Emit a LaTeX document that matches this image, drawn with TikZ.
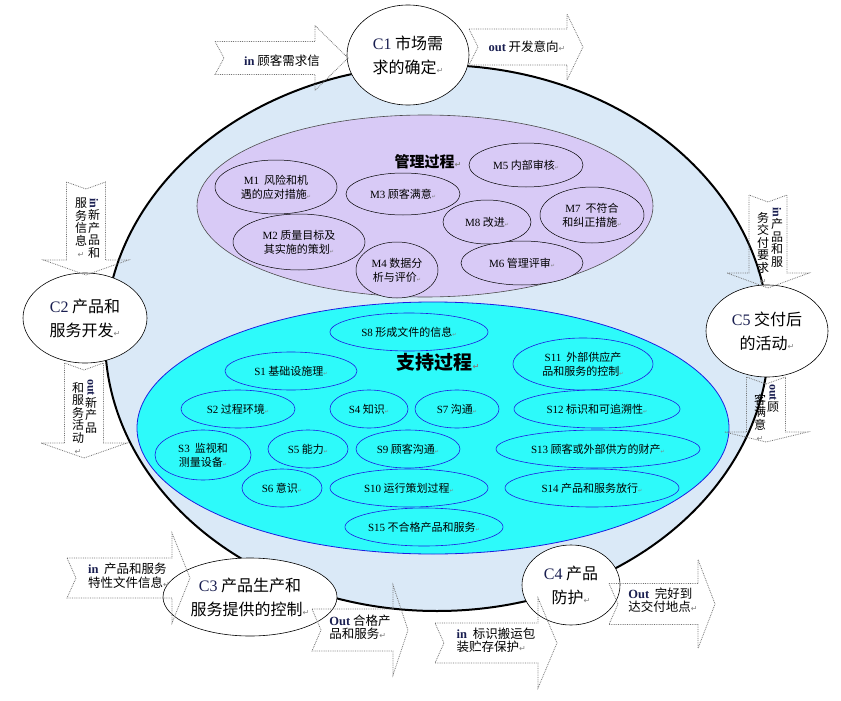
\documentclass[tikz,border=0pt]{standalone}
\usepackage{fontspec}
\setmainfont{Noto Sans CJK SC}
\newfontfamily\latinfont{Liberation Serif}
\newfontfamily\symfont{DejaVu Sans}
\usetikzlibrary{shapes.geometric}
\definecolor{skyfill}{RGB}{218,233,247}
\definecolor{lilac}{RGB}{216,202,246}
\definecolor{aqua}{RGB}{45,250,250}
\definecolor{rim}{RGB}{30,30,225}
\definecolor{navy}{RGB}{25,30,80}
\newcommand\lt[1]{{\latinfont #1}}
\newcommand\io[1]{{\latinfont\bfseries\color{navy}#1}}
\newcommand\pmark{{\symfont\color{gray}\fontsize{8}{8}\selectfont ↵}}
\newcommand\smark{{\symfont\color{gray}\fontsize{5}{5}\selectfont ↵}}
\tikzstyle{ring}=[ellipse,inner sep=0pt]
\tikzstyle{mnode}=[ring,draw=black,fill=lilac,line width=0.5pt,font=\fontsize{11}{14}\selectfont,align=center]
\tikzstyle{snode}=[ring,draw=rim,fill=aqua,line width=0.6pt,font=\fontsize{11}{14}\selectfont,align=center]
\tikzstyle{cnode}=[ring,draw=black,fill=white,line width=0.6pt,font=\fontsize{16}{24}\selectfont,align=center]
\tikzstyle{flow}=[draw=black!55,densely dotted,line width=0.8pt]
\tikzstyle{flowtext}=[inner sep=0pt,font=\fontsize{12.5}{13.5}\selectfont,align=left]
\tikzstyle{vcol}=[inner sep=0pt,anchor=north,font=\fontsize{12}{12.5}\selectfont,align=center]
% block arrows: tail, head base, tip, middle, body half, head half
\newcommand\harrow[6]{\draw[flow] ({#1},{#4-#5}) -- ({#2},{#4-#5}) -- ({#2},{#4-#6}) -- ({#3},{#4}) -- ({#2},{#4+#6}) -- ({#2},{#4+#5}) -- ({#1},{#4+#5}) -- ({#1+9},{#4}) -- cycle;}
\newcommand\varrow[6]{\draw[flow] ({#4-#5},{#1}) -- ({#4-#5},{#2}) -- ({#4-#6},{#2}) -- ({#4},{#3}) -- ({#4+#6},{#2}) -- ({#4+#5},{#2}) -- ({#4+#5},{#1}) -- ({#4},{#1+7}) -- cycle;}
\begin{document}
\begin{tikzpicture}[x=1pt,y=-1pt]
\useasboundingbox (0,0) rectangle (841,701);

\node[ring,draw=black,line width=2pt,fill=skyfill,minimum width=664pt,minimum height=546pt] (qms) at (437,338) {};

% management
\node[ring,draw=black!70,fill=lilac,line width=0.6pt,minimum width=456pt,minimum height=182pt] (mgmt) at (425,206) {};
\node[font=\fontsize{15}{15}\selectfont\bfseries] (mtitle) at (428,162) {管理过程\pmark};
\node[mnode,minimum width=122pt,minimum height=54pt] (M1) at (276,187) {\lt{M1}\ \ 风险和机\\遇的应对措施\smark};
\node[mnode,minimum width=132pt,minimum height=56pt] (M2) at (299,242) {\lt{M2}\ 质量目标及\\其实施的策划\smark};
\node[mnode,minimum width=114pt,minimum height=42pt] (M3) at (403,194) {\lt{M3} 顾客满意\smark};
\node[mnode,minimum width=82pt,minimum height=56pt] (M4) at (397,270) {\lt{M4} 数据分\\析与评价\smark};
\node[mnode,minimum width=114pt,minimum height=44pt] (M5) at (526,165) {\lt{M5} 内部审核\smark};
\node[mnode,minimum width=122pt,minimum height=44pt] (M6) at (522,263) {\lt{M6} 管理评审\smark};
\node[mnode,minimum width=104pt,minimum height=56pt] (M7) at (592,215) {\lt{M7}\ \ 不符合\\和纠正措施\smark};
\node[mnode,minimum width=88pt,minimum height=44pt] (M8) at (487,222) {\lt{M8} 改进\smark};

% support
\node[ring,draw=rim,fill=aqua,line width=0.8pt,minimum width=592pt,minimum height=252pt] (supp) at (433,428) {};
\node[font=\fontsize{19}{19}\selectfont\bfseries] (stitle) at (438,362) {支持过程\pmark};
\node[snode,minimum width=158pt,minimum height=38pt] (S8) at (409,332) {\lt{S8} 形成文件的信息\smark};
\node[snode,minimum width=132pt,minimum height=38pt] (S1) at (291,371) {\lt{S1} 基础设施理\smark};
\node[snode,minimum width=114pt,minimum height=38pt] (S2) at (238,409) {\lt{S2} 过程环境\smark};
\node[snode,minimum width=96pt,minimum height=50pt] (S3) at (203,455) {\lt{S3}\ \ 监视和\\测量设备\smark};
\node[snode,minimum width=78pt,minimum height=38pt] (S4) at (369,409) {\lt{S4} 知识\smark};
\node[snode,minimum width=80pt,minimum height=38pt] (S5) at (308,449) {\lt{S5} 能力\smark};
\node[snode,minimum width=80pt,minimum height=38pt] (S6) at (282,488) {\lt{S6} 意识\smark};
\node[snode,minimum width=84pt,minimum height=38pt] (S7) at (457,409) {\lt{S7} 沟通\smark};
\node[snode,minimum width=104pt,minimum height=38pt] (S9) at (408,449) {\lt{S9} 顾客沟通\smark};
\node[snode,minimum width=158pt,minimum height=38pt] (S10) at (409,488) {\lt{S10} 运行策划过程\smark};
\node[snode,minimum width=140pt,minimum height=52pt] (S11) at (583,364) {\lt{S11}\ \ 外部供应产\\品和服务的控制\smark};
\node[snode,minimum width=166pt,minimum height=38pt] (S12) at (597,409) {\lt{S12} 标识和可追溯性\smark};
\node[snode,minimum width=204pt,minimum height=38pt] (S13) at (598,449) {\lt{S13} 顾客或外部供方的财产\smark};
\node[snode,minimum width=174pt,minimum height=38pt] (S14) at (592,488) {\lt{S14} 产品和服务放行\smark};
\node[snode,minimum width=154pt,minimum height=38pt] (S15) at (424,527) {\lt{S15} 不合格产品和服务\smark};

% core processes
\node[cnode,minimum width=122pt,minimum height=100pt] (C1) at (408,55) {\lt{\color{navy}C1} 市场需\\求的确定\pmark};
\node[cnode,minimum width=124pt,minimum height=90pt] (C2) at (85,318) {\lt{\color{navy}C2} 产品和\\服务开发\pmark};
\node[cnode,minimum width=174pt,minimum height=78pt] (C3) at (250,597) {\lt{\color{navy}C3} 产品生产和\\服务提供的控制\pmark};
\node[cnode,minimum width=98pt,minimum height=80pt] (C4) at (571,585) {\lt{\color{navy}C4} 产品\\防护\pmark};
\node[cnode,minimum width=122pt,minimum height=92pt] (C5) at (767,331) {\lt{\color{navy}C5} 交付后\\的活动\pmark};

% inputs and outputs
\harrow{215}{315}{348}{58}{16.5}{32.5}
\harrow{469}{567}{583}{47}{18}{33}
\harrow{67}{172}{190}{578}{20}{45}
\harrow{312}{393}{408}{630}{21}{45}
\harrow{435}{538}{557}{643}{20}{45}
\harrow{609}{698}{715}{604}{20.5}{44.5}
\varrow{182}{260}{275}{86}{19.5}{42.5}
\varrow{363}{443}{458}{84}{19.5}{43}
\varrow{195}{273}{288}{768}{19}{41}
\varrow{377}{432}{442}{766}{19.5}{41.5}

\node[flowtext] (C1in) at (282,61) {\io{in}\ 顾客需求信};
\node[flowtext] (C1out) at (527,47) {\io{out} 开发意向\pmark};
\node[flowtext] (C3in) at (129,576) {\io{in}\ \ 产品和服务\\特性文件信息\pmark};
\node[flowtext] (C3out) at (360,627) {\io{Out} 合格产\\品和服务\pmark};
\node[flowtext] (C4in) at (496,640) {\io{in}\ \ 标识搬运包\\装贮存保护\pmark};
\node[flowtext] (C4out) at (663,600) {\io{Out}\ \ 完好到\\达交付地点\pmark};

\node[vcol] (C2inR) at (94,198) {\rotatebox[origin=c]{-90}{\io{in}}\\新\\产\\品\\和};
\node[vcol] (C2inL) at (81,198) {服\\务\\信\\息\\\pmark};
\node[vcol] (C2outR) at (91,379) {\rotatebox[origin=c]{-90}{\io{out}}\\新\\产\\品};
\node[vcol] (C2outL) at (78,382) {和\\服\\务\\活\\动\\\pmark};
\node[vcol] (C5inR) at (777,207) {\rotatebox[origin=c]{-90}{\io{in}}\\产\\品\\和\\服};
\node[vcol] (C5inL) at (763,212) {务\\交\\付\\要\\求\\\pmark};
\node[vcol] (C5outR) at (773,384) {\rotatebox[origin=c]{-90}{\io{out}}\\顾};
\node[vcol] (C5outL) at (760,394) {客\\满\\意\\\pmark};
\end{tikzpicture}
\end{document}
